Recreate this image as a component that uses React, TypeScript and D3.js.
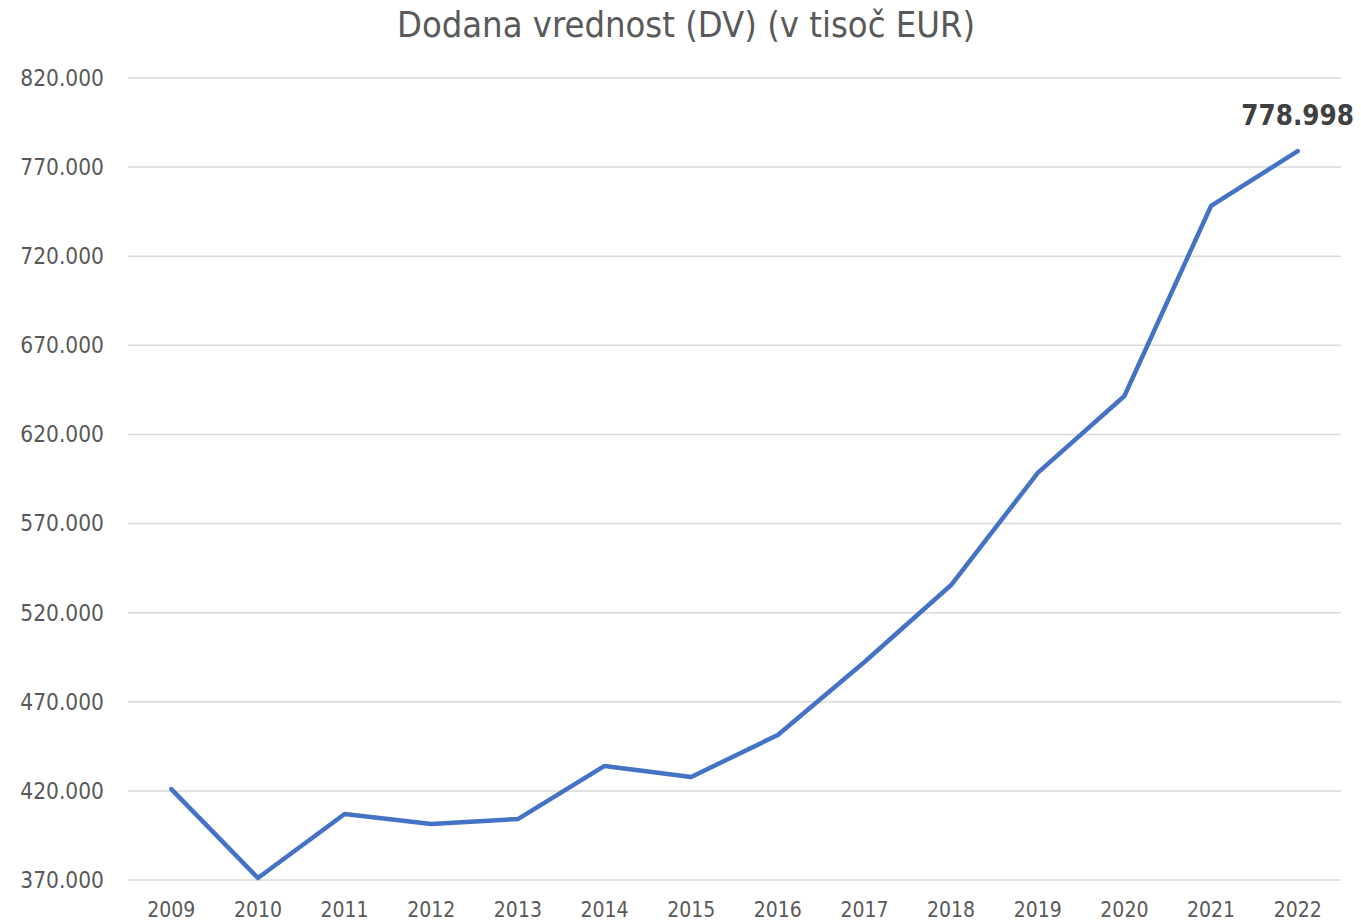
import React from "react";
import * as d3 from "d3";

const years = ["2009","2010","2011","2012","2013","2014","2015","2016","2017","2018","2019","2020","2021","2022"];
const values = [421000, 371100, 407000, 401400, 404200, 434000, 427800, 451400, 492300, 535500, 598400, 641600, 748200, 778998];
const yTicks = [370000, 420000, 470000, 520000, 570000, 620000, 670000, 720000, 770000, 820000];
const title = "Dodana vrednost (DV) (v tisoč EUR)";

const W = 1361, H = 921;
const left = 128, right = 1341, top = 78, bottom = 880;
const FONT = "'DejaVu Sans Condensed', 'DejaVu Sans', sans-serif";

const fmt = (v: number) => d3.format(",")(v).replace(/,/g, ".");

export default function App() {
  const x = d3.scaleBand<string>().domain(years).range([left, right]).padding(0);
  const y = d3.scaleLinear().domain([370000, 820000]).range([bottom, top]);
  const cx = (yr: string) => (x(yr) as number) + x.bandwidth() / 2;
  const line = d3.line<number>().x((_, i) => cx(years[i])).y((d) => y(d));
  const last = values.length - 1;
  return (
    <svg width={W} height={H} style={{ position: "absolute", left: 0, top: 0, background: "#fff" }}>
      <rect x={0} y={0} width={W} height={H} fill="#fff" />
      <text x={686} y={37} textAnchor="middle" fontFamily={FONT} fontSize={36} fill="#595959">{title}</text>
      {yTicks.map((t) => (
        <g key={t}>
          <line x1={left} x2={right} y1={y(t)} y2={y(t)} stroke="#d9d9d9" strokeWidth={1.5} />
          <text x={104} y={y(t)} dy="0.35em" textAnchor="end" fontFamily={FONT} fontSize={22.5} fill="#595959">{fmt(t)}</text>
        </g>
      ))}
      {years.map((yr) => (
        <text key={yr} x={cx(yr)} y={917} textAnchor="middle" fontFamily={FONT} fontSize={21} fill="#595959">{yr}</text>
      ))}
      <path d={line(values) || ""} fill="none" stroke="#4472C4" strokeWidth={4.5} strokeLinejoin="round" strokeLinecap="round" />
      <text x={cx(years[last])} y={y(values[last]) - 26} textAnchor="middle" fontFamily={FONT} fontSize={27.5} fontWeight="bold" fill="#404040">{fmt(values[last])}</text>
    </svg>
  );
}
